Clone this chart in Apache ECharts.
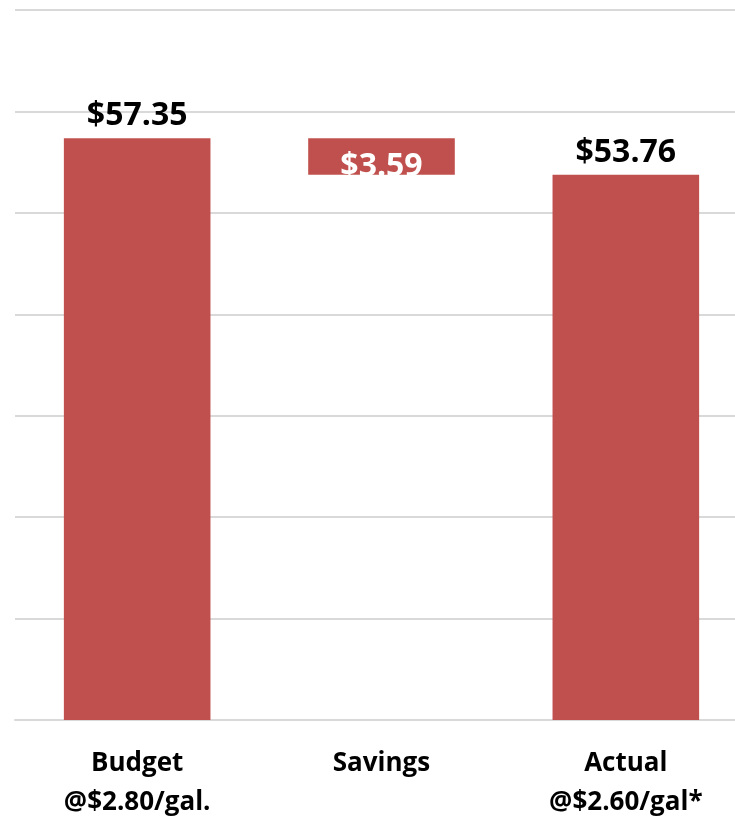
<!DOCTYPE html>
<html>
<head>
<meta charset="utf-8">
<script src="https://cdn.jsdelivr.net/npm/echarts@6/dist/echarts.min.js"></script>
<style>html,body{margin:0;padding:0;background:#fff;}#c{width:735px;height:816px;}</style>
</head>
<body>
<div id="c"></div>
<script>
const categories = ['Budget\n@$2.80/gal.', 'Savings', 'Actual\n@$2.60/gal*'];
const budget = 57.35;
const savings = 3.59;
const actual = 53.76;
const valueLabels = ['$57.35', '$3.59', '$53.76'];

const base = [0, budget - savings, 0];
const visible = [budget, savings, actual];

const chart = echarts.init(document.getElementById('c'));
chart.setOption({
  animation: false,
  grid: { left: 15, right: -13, top: 10, bottom: 96, containLabel: false, outerBoundsMode: 'none' },
  xAxis: {
    type: 'category',
    data: categories,
    axisLine: { show: true, lineStyle: { color: '#d9d9d9', width: 2 } },
    axisTick: { show: false },
    axisLabel: {
      color: '#000', fontFamily: 'Open Sans', fontWeight: 'bold', fontSize: 26,
      lineHeight: 39, margin: 24
    }
  },
  yAxis: {
    type: 'value', min: 0, max: 70, interval: 10,
    axisLabel: { show: false },
    axisLine: { show: false },
    axisTick: { show: false },
    splitLine: { lineStyle: { color: '#d9d9d9', width: 2 } }
  },
  series: [
    {
      type: 'bar', stack: 'w', data: base, barWidth: '60%',
      itemStyle: { color: 'transparent' }, silent: true
    },
    {
      type: 'bar', stack: 'w', barWidth: '60%',
      data: visible.map((v, i) => ({
        value: v,
        label: i === 1 ? {
          show: true, position: 'inside', offset: [0, 10], color: '#fff',
          formatter: valueLabels[i]
        } : {
          show: true, position: 'top', distance: 6, color: '#000',
          formatter: valueLabels[i]
        }
      })),
      itemStyle: { color: '#C0504D' },
      label: { fontFamily: 'Open Sans', fontWeight: 'bold', fontSize: 32 }
    }
  ]
});
</script>
</body>
</html>
